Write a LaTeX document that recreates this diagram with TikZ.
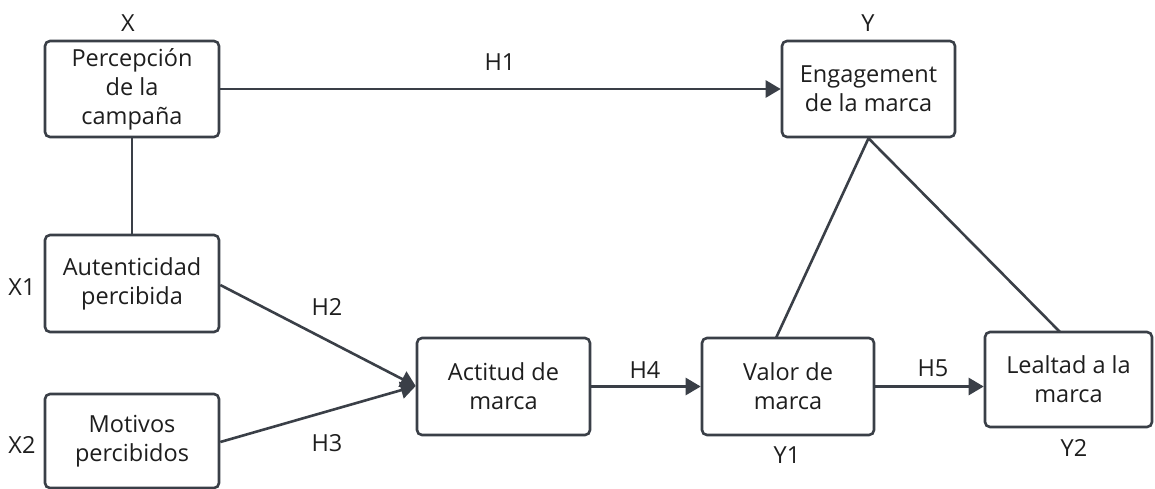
\documentclass[tikz,border=0pt]{standalone}
\usepackage{fontspec}
\setmainfont{Open Sans}
\usetikzlibrary{arrows.meta,calc}
\definecolor{ln}{HTML}{3A3F47}
\definecolor{tx}{HTML}{1E1E1E}
\tikzset{
  box/.style={draw=ln, line width=2.6pt, rounded corners=5pt, fill=white, align=center,
    text=tx, font=\fontsize{23.5}{29}\selectfont, inner sep=0pt},
  lbl/.style={text=tx, font=\fontsize{23.5}{28}\selectfont, inner sep=0pt},
  conn/.style={draw=ln, line width=2.6pt},
  arr/.style={conn, -{Triangle[length=15pt,width=17pt]}},
}
\begin{document}
\begin{tikzpicture}[x=1pt,y=-1pt]
\useasboundingbox (0,0) rectangle (1155,488);
\fill[white] (0,0) rectangle (1155,488);
\node[box, minimum width=174pt, minimum height=96pt] (perc) at (132,89) {Percepción\\de la\\campaña};
\node[box, minimum width=173pt, minimum height=96pt] (eng) at (868.5,89) {Engagement\\de la marca};
\node[box, minimum width=174pt, minimum height=97pt] (aut) at (132,283.5) {Autenticidad\\percibida};
\node[box, minimum width=174pt, minimum height=94pt] (mot) at (132,441) {Motivos\\percibidos};
\node[box, minimum width=173pt, minimum height=97pt] (act) at (503.5,386.5) {Actitud de\\marca};
\node[box, minimum width=172pt, minimum height=97pt] (val) at (788,386.5) {Valor de\\marca};
\node[box, minimum width=167pt, minimum height=95pt] (leal) at (1068.5,379.5) {Lealtad a la\\marca};

\node[lbl] (lx) at (128,23) {X};
\node[lbl] (ly) at (868,23) {Y};
\node[lbl] (lx1) at (22,287) {X1};
\node[lbl] (lx2) at (22,445) {X2};
\node[lbl] (h1) at (500,62) {H1};
\node[lbl] (h2) at (327,307) {H2};
\node[lbl] (h3) at (327,443) {H3};
\node[lbl] (h4) at (645,370) {H4};
\node[lbl] (h5) at (933,368) {H5};
\node[lbl] (ly1) at (787,455) {Y1};
\node[lbl] (ly2) at (1074,448) {Y2};

\coordinate (tip) at ($(act.west)+(0,-0.5)$);
\coordinate (autout) at (aut.east |- 0,285);
\coordinate (motout) at (mot.east |- 0,442);
\coordinate (valtop) at (776,338);
\coordinate (lealtop) at (1060,332);

\draw[conn] (perc.south) -- (aut.north);
\draw[arr] (perc.east) -- (eng.west);
\draw[arr] (autout) -- (tip);
\draw[arr] (motout) -- (tip);
\draw[arr] (act.east) -- (val.west);
\draw[arr] (val.east) -- (val.east -| leal.west);
\draw[conn] (eng.south) -- (valtop);
\draw[conn] (eng.south) -- (lealtop);
\end{tikzpicture}
\end{document}
